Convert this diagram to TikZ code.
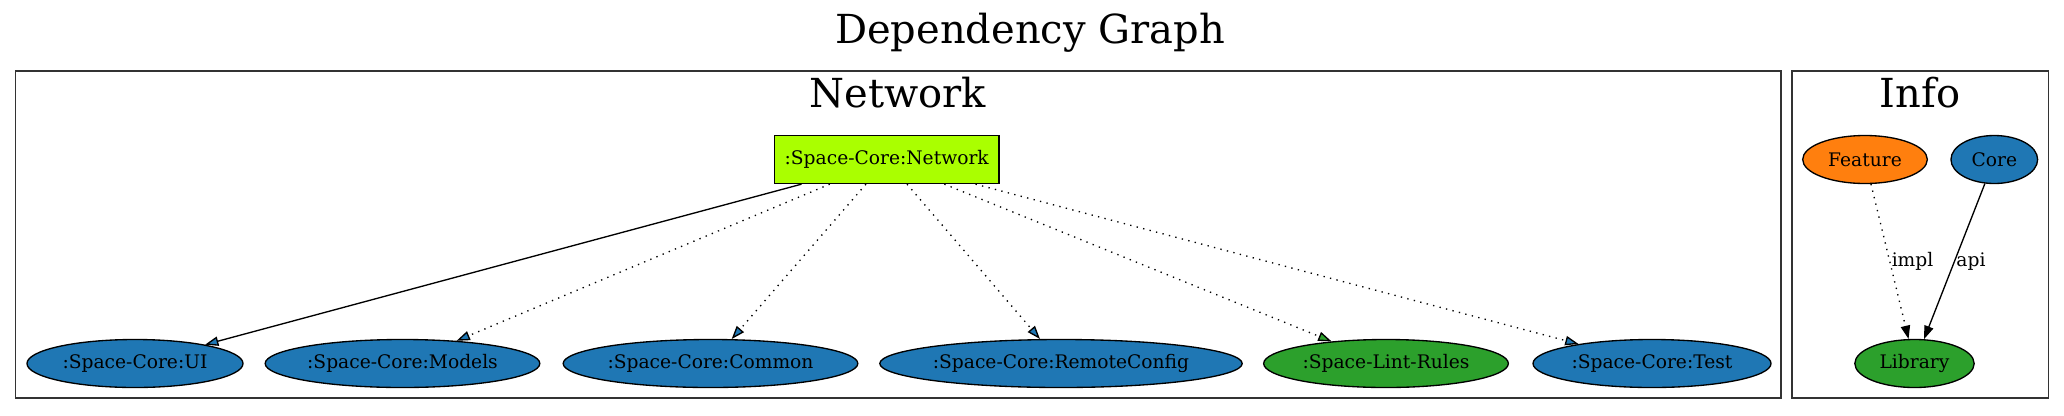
\documentclass[tikz,border=0pt]{standalone}
\usepackage{fontspec}
\setmainfont{DejaVu Serif}
\usetikzlibrary{calc,shapes.geometric,arrows.meta}
\definecolor{coreblue}{HTML}{1F77B4}
\definecolor{libgreen}{HTML}{2CA02C}
\definecolor{featorange}{HTML}{FF7F0E}
\definecolor{netlime}{HTML}{AAFF00}
\definecolor{clustergray}{HTML}{333333}

\begin{document}
\begin{tikzpicture}[x=0.75pt, y=-0.75pt, line width=1pt,
        module/.style={ellipse, draw=black, minimum height=36pt, inner sep=0pt,
            font=\fontsize{14}{17}\selectfont},
        bigtext/.style={font=\fontsize{30}{36}\selectfont, anchor=base, inner sep=0pt},
        dep/.style={-{Triangle[length=10pt, width=7pt, fill=#1]}},
        dotdep/.style={dep=#1, dash pattern=on 1pt off 4pt},
        edgetext/.style={right, midway, inner sep=1pt, font=\fontsize{14}{17}\selectfont}]
            \useasboundingbox [fill=white] (0, 0) rectangle (2064, 415);

            \node [bigtext] (title) at (1030, 43) {Dependency Graph};

            % clusters
            \draw [clustergray] (15.5, 71) rectangle (1781, 398);
            \draw [clustergray] (1792, 71) rectangle (2048.5, 398);
            \node [bigtext] (netlabel) at (898, 107.5) {Network};
            \node [bigtext] (infolabel) at (1920, 107.5) {Info};

            \node [rectangle, draw=black, fill=netlime, minimum width=168.5pt,
                minimum height=36pt, inner sep=0pt, font=\fontsize{14}{17}\selectfont]
                (network) at (886.7, 159.5) {:Space-Core:Network};

            \node [module, fill=coreblue, minimum width=162pt]
                (ui) at (135, 363.5) {:Space-Core:UI};
            \node [module, fill=coreblue, minimum width=206pt]
                (models) at (402.5, 363.5) {:Space-Core:Models};
            \node [module, fill=coreblue, minimum width=221pt]
                (common) at (710.5, 363.5) {:Space-Core:Common};
            \node [module, fill=coreblue, minimum width=268.5pt]
                (remoteconfig) at (1061, 363.5) {:Space-Core:RemoteConfig};
            \node [module, fill=libgreen, minimum width=183.5pt]
                (lintrules) at (1386, 363.5) {:Space-Lint-Rules};
            \node [module, fill=coreblue, minimum width=178.5pt]
                (test) at (1652, 363.5) {:Space-Core:Test};

            \draw [dep=coreblue] ($(network.south west)!0.123!(network.south east)$) -- (ui);
            \draw [dotdep=coreblue] ($(network.south west)!0.248!(network.south east)$) -- (models);
            \draw [dotdep=coreblue] ($(network.south west)!0.408!(network.south east)$) -- (common);
            \draw [dotdep=coreblue] ($(network.south west)!0.59!(network.south east)$) -- (remoteconfig);
            \draw [dotdep=libgreen] ($(network.south west)!0.755!(network.south east)$) -- (lintrules);
            \draw [dotdep=coreblue] ($(network.south west)!0.893!(network.south east)$) -- (test);

            % legend
            \node [module, fill=featorange, minimum width=93.5pt]
                (feature) at (1865, 159.5) {Feature};
            \node [module, fill=coreblue, minimum width=65pt]
                (core) at (1994.3, 159.5) {Core};
            \node [module, fill=libgreen, minimum width=89.5pt]
                (library) at (1914.5, 363.5) {Library};

            \draw [dotdep=black] (feature) -- node [edgetext] {impl} (library);
            \draw [dep=black] (core) -- node [edgetext] {api} (library);
        \end{tikzpicture}
\end{document}
